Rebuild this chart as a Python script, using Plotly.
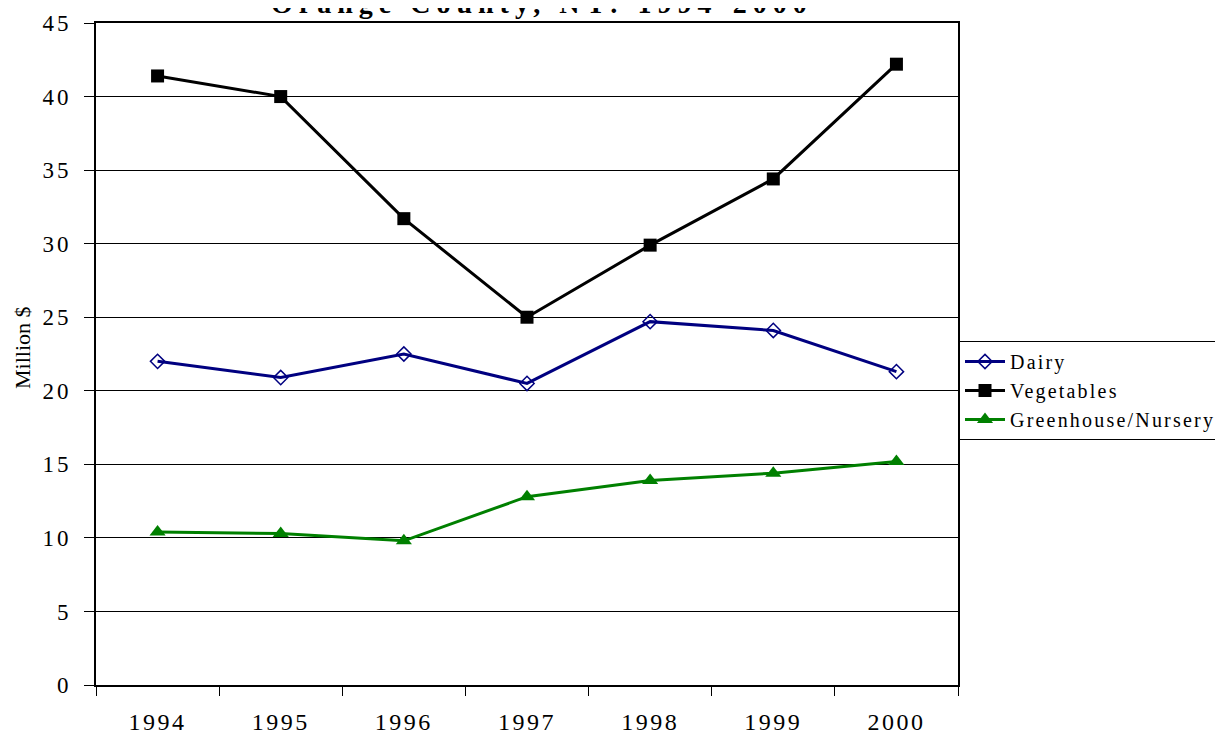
import plotly.graph_objects as go

years = ["1994", "1995", "1996", "1997", "1998", "1999", "2000"]
dairy = [22.0, 20.9, 22.5, 20.5, 24.7, 24.1, 21.3]
vegetables = [41.4, 40.0, 31.7, 25.0, 29.9, 34.4, 42.2]
greenhouse = [10.4, 10.3, 9.8, 12.8, 13.9, 14.4, 15.2]
yticks = [0, 5, 10, 15, 20, 25, 30, 35, 40, 45]
series_names = ["Dairy", "Vegetables", "Greenhouse/Nursery"]
title_text = "Orange County, NY: 1994-2000"
ylabel = "Million $"

FONT = "Liberation Serif"

# page has an 8px body margin; figure coordinates are offset by it
W, H = 1215, 726
L, T, R, B = 88, 15, 265, 49
PW, PH = W - L - R, H - T - B


def spaced(t, px):
    return f"<span style='letter-spacing:{px}px'>{t}</span>"


fig = go.Figure()
fig.add_trace(go.Scatter(x=years, y=dairy, name=spaced(series_names[0], 2.2), mode="lines+markers",
                         line=dict(color="#000080", width=3),
                         marker=dict(symbol="diamond-open", size=11, color="#000080",
                                     line=dict(width=1.5, color="#000080"))))
fig.add_trace(go.Scatter(x=years, y=vegetables, name=spaced(series_names[1], 2.2), mode="lines+markers",
                         line=dict(color="#000000", width=3),
                         marker=dict(symbol="square", size=13, color="#000000")))
fig.add_trace(go.Scatter(x=years, y=greenhouse, name=spaced(series_names[2], 2.2), mode="lines+markers",
                         line=dict(color="#008000", width=3),
                         marker=dict(symbol="triangle-up", size=14, color="#008000")))

fig.update_layout(
    width=W, height=H,
    margin=dict(l=L, r=R, t=T, b=B, autoexpand=False),
    paper_bgcolor="white", plot_bgcolor="white",
    font=dict(family=FONT, size=20, color="black"),
    showlegend=True,
    legend=dict(x=1.0 + 1 / PW, y=(PH - (341 - 8 - T)) / PH, xanchor="left", yanchor="top",
                bgcolor="white", bordercolor="black", borderwidth=1,
                font=dict(family=FONT, size=20, color="black"),
                tracegroupgap=0, itemwidth=40),
    xaxis=dict(type="category", range=[-0.5, 6.5], tickson="boundaries",
               tickmode="array", tickvals=years, ticktext=[spaced(y, 2.5) for y in years],
               ticks="outside", ticklen=9, tickcolor="black", tickwidth=1,
               showline=True, linecolor="black", linewidth=2, mirror=True,
               showgrid=False, ticklabelstandoff=14, automargin=False,
               tickfont=dict(family=FONT, size=24)),
    yaxis=dict(range=[0, 45], tickmode="array", tickvals=yticks,
               ticktext=[spaced(str(v), 3) for v in yticks], ticks="outside", ticklen=10,
               tickcolor="black", showline=True, linecolor="black", linewidth=2,
               mirror=True, showgrid=True, gridcolor="black", gridwidth=1,
               zeroline=False, ticklabelstandoff=8, automargin=False,
               tickfont=dict(family=FONT, size=23)),
)

fig.add_annotation(text=ylabel, xref="paper", yref="paper",
                   x=-74 / PW, y=(PH - (348 - 8 - T)) / PH, xanchor="center", yanchor="middle",
                   textangle=-90, showarrow=False,
                   font=dict(family=FONT, size=22, color="black"))

fig.add_annotation(text="<b>" + spaced(title_text, 6) + "</b>", xref="paper", yref="paper",
                   x=(533.5 - L) / PW, y=1.0 + 2 / PH, xanchor="center", yanchor="bottom",
                   showarrow=False, font=dict(family=FONT, size=28, color="black"))

fig.write_html("out.html")
